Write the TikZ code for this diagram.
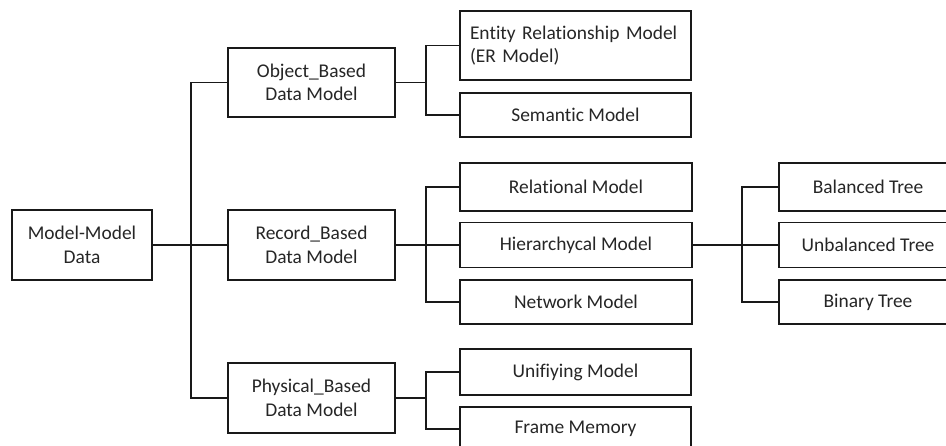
\documentclass[tikz,border=0pt]{standalone}
\usepackage{fontspec}
\setmainfont[Ligatures={NoCommon}]{Carlito}
\begin{document}
\begin{tikzpicture}[x=1bp,y=-1bp,
  box/.style={draw=black!90, line width=1.8bp, fill=white, inner sep=0pt, align=center,
    text=black!85, font=\fontsize{19.5}{23.5}\selectfont},
  link/.style={draw=black!90, line width=1.8bp}]
\useasboundingbox (0,0) rectangle (946,446);
\clip (0,0) rectangle (946,446);
% nodes
\node[box, minimum width=140bp, minimum height=70bp] (root) at (82,245) {Model-Model\\Data};
\node[box, minimum width=167bp, minimum height=69bp] (obj) at (311.5,82.5) {Object\_Based\\Data Model};
\node[box, minimum width=167bp, minimum height=70bp] (rec) at (311.5,245) {Record\_Based\\Data Model};
\node[box, minimum width=167bp, minimum height=70bp] (phys) at (311.5,398) {Physical\_Based\\Data Model};
\node[box, align=left, text width=211bp, inner xsep=10bp, minimum height=69bp] (er) at (575.5,45.5) {Entity Relationship Model\\(ER Model)};
\node[box, minimum width=231bp, minimum height=44bp] (sem) at (575.5,115) {Semantic Model};
\node[box, minimum width=232bp, minimum height=48bp] (rel) at (576,187) {Relational Model};
\node[box, minimum width=232bp, minimum height=45bp] (hier) at (576,245) {Hierarchycal Model};
\node[box, minimum width=232bp, minimum height=44bp] (net) at (576,302) {Network Model};
\node[box, minimum width=231bp, minimum height=46bp] (uni) at (575.5,372) {Unifiying Model};
\node[box, minimum width=231bp, minimum height=44bp] (frame) at (575.5,429) {Frame Memory};
\node[box, minimum width=178bp, minimum height=48bp] (bal) at (868,187) {Balanced Tree};
\node[box, minimum width=178bp, minimum height=45bp] (unb) at (868,245) {Unbalanced Tree};
\node[box, minimum width=178bp, minimum height=44bp] (bin) at (868,302) {Binary Tree};
% connectors
\coordinate (t1) at (191,0);
\coordinate (t2) at (426,0);
\coordinate (t3) at (742,0);
\draw[link] (root.east) -- (rec.west);
\draw[link] (obj.west) -- (obj.west -| t1) -- (phys.west -| t1) -- (phys.west);
\draw[link] (er.west) -- (er.west -| t2) -- (sem.west -| t2) -- (sem.west);
\draw[link] (obj.east) -- (obj.east -| t2);
\draw[link] (rel.west) -- (rel.west -| t2) -- (net.west -| t2) -- (net.west);
\draw[link] (rec.east) -- (hier.west);
\draw[link] (uni.west) -- (uni.west -| t2) -- (frame.west -| t2) -- (frame.west);
\draw[link] (phys.east) -- (phys.east -| t2);
\draw[link] (bal.west) -- (bal.west -| t3) -- (bin.west -| t3) -- (bin.west);
\draw[link] (hier.east) -- (unb.west);
\end{tikzpicture}
\end{document}
